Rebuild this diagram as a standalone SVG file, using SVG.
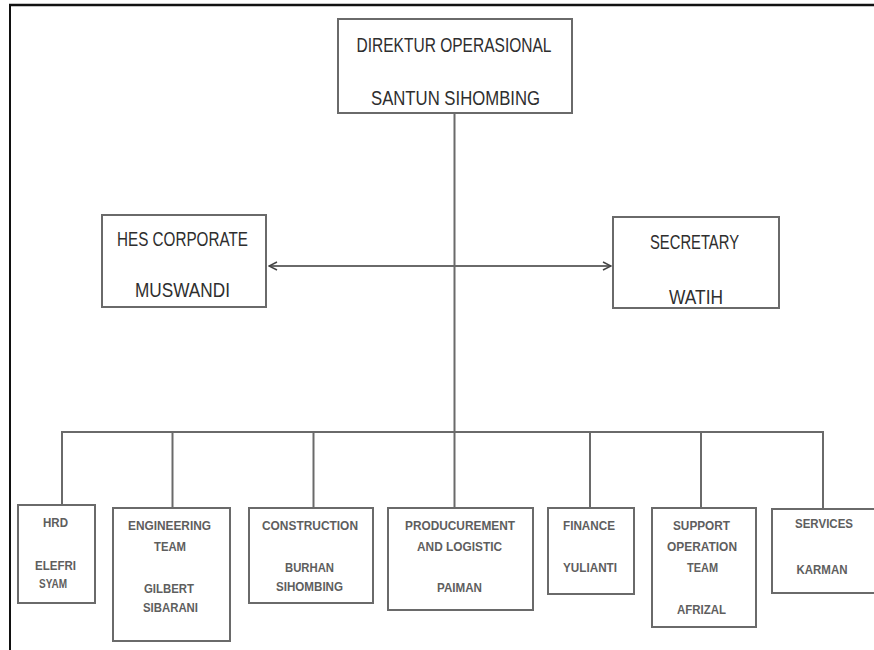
<svg xmlns="http://www.w3.org/2000/svg" width="874" height="650" viewBox="0 0 874 650">
<style>
.frame{stroke:#111;fill:none}
.box{fill:#fff;stroke:#6a6a6a;stroke-width:2}
.ln{stroke:#6a6a6a;stroke-width:2;fill:none}
.big{font-family:"Liberation Sans Narrow","Liberation Sans",Arial,sans-serif;font-size:20px;fill:#2e2e2e;text-anchor:middle}
.sm{font-family:"Liberation Sans Narrow","Liberation Sans",Arial,sans-serif;font-size:12.5px;fill:#5e5e5e;text-anchor:middle;font-weight:bold}
</style>
<defs>
<marker id="ah" viewBox="0 0 10 10" refX="9" refY="5" markerWidth="10" markerHeight="10" markerUnits="userSpaceOnUse" orient="auto-start-reverse">
<path d="M1,1 L9,5 L1,9" fill="none" stroke="#444" stroke-width="1.5"/>
</marker>
</defs>
<rect width="874" height="650" fill="#fff"/>
<line class="frame" x1="9" y1="5" x2="874" y2="5" stroke-width="2.5"/>
<line class="frame" x1="10" y1="4" x2="10" y2="650" stroke-width="2"/>

<g id="connectors">
<line class="ln" x1="454.5" y1="113" x2="454.5" y2="432"/>
<line class="ln" x1="269" y1="266" x2="611" y2="266" marker-start="url(#ah)" marker-end="url(#ah)"/>
<line class="ln" x1="61" y1="432" x2="824" y2="432"/>
<line class="ln" x1="62" y1="432" x2="62" y2="505"/>
<line class="ln" x1="172.5" y1="432" x2="172.5" y2="508"/>
<line class="ln" x1="313.5" y1="432" x2="313.5" y2="508"/>
<line class="ln" x1="454.5" y1="432" x2="454.5" y2="508"/>
<line class="ln" x1="590" y1="432" x2="590" y2="508"/>
<line class="ln" x1="701" y1="432" x2="701" y2="508"/>
<line class="ln" x1="823" y1="432" x2="823" y2="509"/>
</g>

<g id="direktur">
<rect class="box" x="338" y="19" width="234" height="94"/>
<text class="big" x="454" y="52" textLength="195" lengthAdjust="spacingAndGlyphs">DIREKTUR OPERASIONAL</text>
<text class="big" x="455.5" y="105" textLength="169" lengthAdjust="spacingAndGlyphs">SANTUN SIHOMBING</text>
</g>

<g id="hes">
<rect class="box" x="102" y="215" width="164" height="92"/>
<text class="big" x="182.5" y="246" textLength="131" lengthAdjust="spacingAndGlyphs">HES CORPORATE</text>
<text class="big" x="182.5" y="297" textLength="95" lengthAdjust="spacingAndGlyphs">MUSWANDI</text>
</g>

<g id="secretary">
<rect class="box" x="613" y="217" width="166" height="91"/>
<text class="big" x="694.5" y="249" textLength="89" lengthAdjust="spacingAndGlyphs">SECRETARY</text>
<text class="big" x="696" y="304" textLength="54" lengthAdjust="spacingAndGlyphs">WATIH</text>
</g>

<g id="hrd">
<rect class="box" x="18" y="505" width="77" height="98"/>
<text class="sm" x="55.5" y="526.5" textLength="25" lengthAdjust="spacingAndGlyphs">HRD</text>
<text class="sm" x="55.5" y="570" textLength="41" lengthAdjust="spacingAndGlyphs">ELEFRI</text>
<text class="sm" x="53" y="587.5" textLength="28" lengthAdjust="spacingAndGlyphs">SYAM</text>
</g>

<g id="engineering">
<rect class="box" x="113" y="508" width="117" height="133"/>
<text class="sm" x="169.5" y="529.5" textLength="83" lengthAdjust="spacingAndGlyphs">ENGINEERING</text>
<text class="sm" x="170" y="550.5" textLength="32" lengthAdjust="spacingAndGlyphs">TEAM</text>
<text class="sm" x="169" y="592.5" textLength="50" lengthAdjust="spacingAndGlyphs">GILBERT</text>
<text class="sm" x="170.5" y="611.5" textLength="55" lengthAdjust="spacingAndGlyphs">SIBARANI</text>
</g>

<g id="construction">
<rect class="box" x="249" y="508" width="124" height="95"/>
<text class="sm" x="310" y="529.5" textLength="96" lengthAdjust="spacingAndGlyphs">CONSTRUCTION</text>
<text class="sm" x="309.5" y="571.5" textLength="49" lengthAdjust="spacingAndGlyphs">BURHAN</text>
<text class="sm" x="309.5" y="590.5" textLength="67" lengthAdjust="spacingAndGlyphs">SIHOMBING</text>
</g>

<g id="procurement">
<rect class="box" x="388" y="508" width="145" height="102"/>
<text class="sm" x="460" y="529.5" textLength="110" lengthAdjust="spacingAndGlyphs">PRODUCUREMENT</text>
<text class="sm" x="459.5" y="550.5" textLength="85" lengthAdjust="spacingAndGlyphs">AND LOGISTIC</text>
<text class="sm" x="459.5" y="591.5" textLength="45" lengthAdjust="spacingAndGlyphs">PAIMAN</text>
</g>

<g id="finance">
<rect class="box" x="548" y="508" width="86" height="86"/>
<text class="sm" x="589" y="529.5" textLength="52" lengthAdjust="spacingAndGlyphs">FINANCE</text>
<text class="sm" x="590" y="571.5" textLength="54" lengthAdjust="spacingAndGlyphs">YULIANTI</text>
</g>

<g id="support">
<rect class="box" x="652" y="508" width="104" height="119"/>
<text class="sm" x="701.5" y="529.5" textLength="57" lengthAdjust="spacingAndGlyphs">SUPPORT</text>
<text class="sm" x="702" y="550.5" textLength="70" lengthAdjust="spacingAndGlyphs">OPERATION</text>
<text class="sm" x="702.5" y="571.5" textLength="31" lengthAdjust="spacingAndGlyphs">TEAM</text>
<text class="sm" x="701.5" y="613.5" textLength="49" lengthAdjust="spacingAndGlyphs">AFRIZAL</text>
</g>

<g id="services">
<rect class="box" x="772" y="509" width="106" height="84"/>
<text class="sm" x="824" y="527.5" textLength="58" lengthAdjust="spacingAndGlyphs">SERVICES</text>
<text class="sm" x="822" y="573.5" textLength="51" lengthAdjust="spacingAndGlyphs">KARMAN</text>
</g>
</svg>
